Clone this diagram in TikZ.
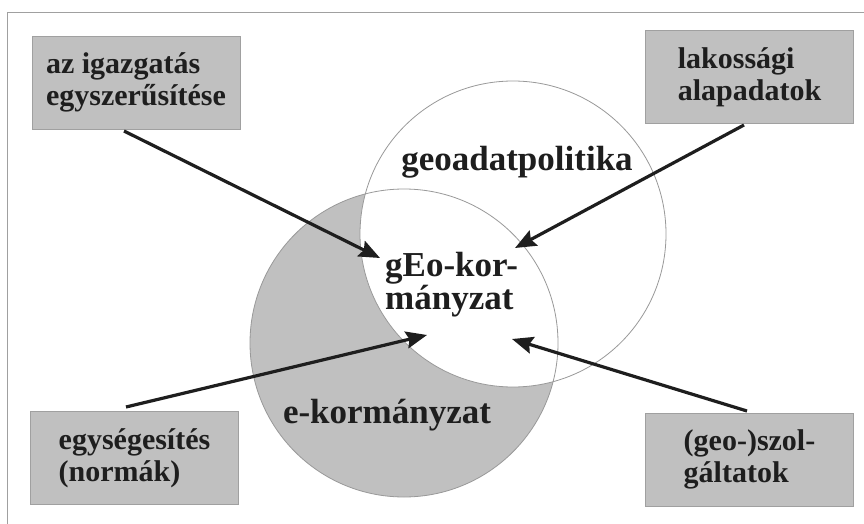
\documentclass[tikz,border=0pt]{standalone}
\usepackage{fontspec}
\setmainfont{Liberation Serif}
\usetikzlibrary{arrows.meta}
\definecolor{fillgray}{HTML}{C0C0C0}
\definecolor{edgegray}{HTML}{A0A0A0}
\definecolor{ringgray}{HTML}{999999}
\definecolor{ink}{HTML}{1E1E1E}
\tikzset{
  infobox/.style={draw=edgegray, line width=0.8pt, fill=fillgray, minimum width=208pt, minimum height=93pt, inner sep=0pt, align=left, text=ink, font=\bfseries\fontsize{30}{32}\selectfont},
  bigtext/.style={text=ink, font=\bfseries\fontsize{35}{33}\selectfont, inner sep=0pt},
  arrowline/.style={line width=3.2pt, draw=ink, -{Stealth[length=21pt, width=17pt, inset=3pt]}},
  frameline/.style={draw=edgegray, line width=1pt}
}
\begin{document}
\begin{tikzpicture}[x=1pt, y=-1pt]
\useasboundingbox (0,0) rectangle (864,524);
\fill[white] (0,0) rectangle (864,524);
% frame
\draw[frameline] (7,524) -- (7,13) -- (864,13);
% circles
\fill[fillgray] (404,343) circle[radius=154pt];
\filldraw[fill=white, draw=ringgray, line width=0.8pt] (513,234) circle[radius=153pt];
\draw[ringgray, line width=0.8pt] (404,343) circle[radius=154pt];
% texts in circles
\node[bigtext, anchor=base] (geo) at (517,170) {geoadatpolitika};
\node[bigtext, anchor=base] (ekorm) at (387,423) {e-kormányzat};
\node[bigtext, align=left, anchor=north west] (gekorm) at (385,252) {gEo-kor-\\mányzat};
% boxes
\node[infobox] (b1) at (136,82.5) {az igazgatás\\egyszerűsítése};
\node[infobox] (b2) at (749.5,77) {lakossági\\alapadatok};
\node[infobox] (b3) at (134.5,458) {egységesítés\\(normák)};
\node[infobox] (b4) at (749.5,459.5) {(geo-)szol-\\gáltatok};
% arrow ends
\coordinate (s1) at (124,131);
\coordinate (t1) at (380,258);
\coordinate (s2) at (744,125);
\coordinate (t2) at (515,248);
\coordinate (s3) at (126,407);
\coordinate (t3) at (427,335);
\coordinate (s4) at (747,411);
\coordinate (t4) at (512,339);
\draw[arrowline] (s1) -- (t1);
\draw[arrowline] (s2) -- (t2);
\draw[arrowline] (s3) -- (t3);
\draw[arrowline] (s4) -- (t4);
\end{tikzpicture}
\end{document}
